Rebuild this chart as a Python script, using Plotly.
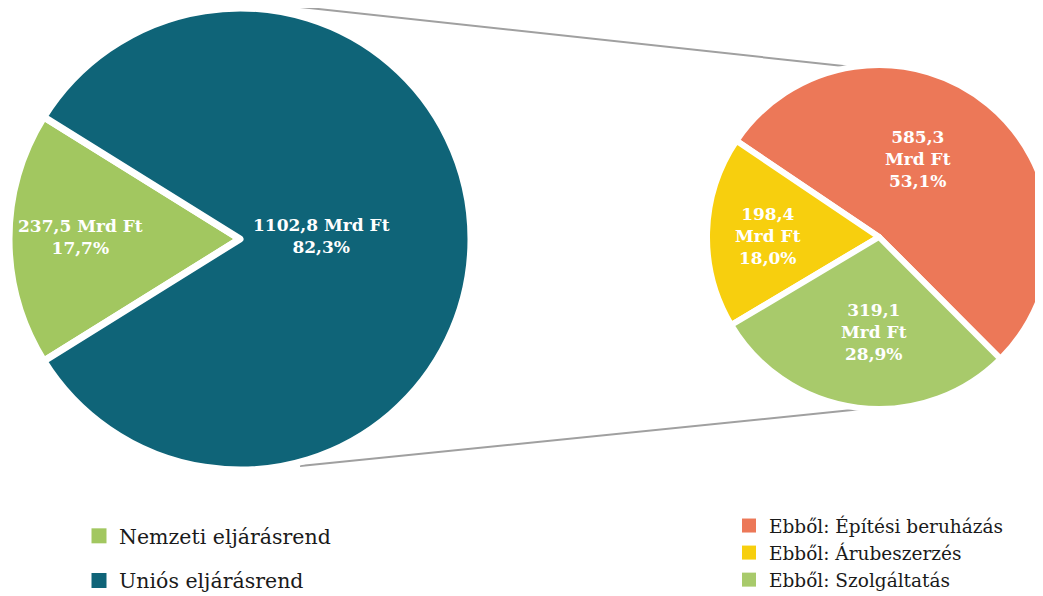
import plotly.graph_objects as go

W, H = 1043, 596
OFF = 8  # page body margin offset

# ---- data ----
left_labels = ["Nemzeti eljárásrend", "Uniós eljárásrend"]
left_values = [237.5, 1102.8]
left_pct = [17.7, 82.3]
left_colors = ["#a2c760", "#0f6478"]

right_labels = ["Ebből: Építési beruházás", "Ebből: Árubeszerzés", "Ebből: Szolgáltatás"]
right_values = [585.3, 198.4, 319.1]
right_pct = [53.1, 18.0, 28.9]
right_colors = ["#ec7858", "#f7cf0e", "#a8ca6b"]


def fmt(v):
    return f"{v:.1f}".replace(".", ",")


def px(x, y):
    """page pixel -> paper coords"""
    return (x - OFF) / W, 1 - (y - OFF) / H


fig = go.Figure()

# left pie
fig.add_trace(go.Pie(
    labels=left_labels, values=left_values, sort=False,
    direction="clockwise", rotation=238.1,
    marker=dict(colors=left_colors, line=dict(color="white", width=7)),
    textinfo="none", hoverinfo="label+value+percent", showlegend=False,
    domain=dict(x=[1 / W, 463 / W], y=[1 - 462 / H, 1.0]),
))

# right pie
fig.add_trace(go.Pie(
    labels=right_labels, values=right_values, sort=False,
    direction="counterclockwise", rotation=-56,
    marker=dict(colors=right_colors, line=dict(color="white", width=6)),
    textinfo="none", hoverinfo="label+value+percent", showlegend=False,
    domain=dict(x=[699 / W, 1.0], y=[1 - 401 / H, 1 - 57 / H]),
))

# legend entries
for lab, col in zip(left_labels, left_colors):
    fig.add_trace(go.Scatter(
        x=[None], y=[None], mode="markers", name=lab, legend="legend",
        legendgroup=lab, marker=dict(symbol="square", size=15, color=col),
    ))
for lab, col in zip(right_labels, right_colors):
    fig.add_trace(go.Scatter(
        x=[None], y=[None], mode="markers", name=lab, legend="legend2",
        legendgroup=lab, marker=dict(symbol="square", size=14, color=col),
    ))

# slice labels
lab_font = dict(family="DejaVu Serif", size=17, color="white")
left_pos = [(80, 237), (321, 236)]
for (x, y), v, p in zip(left_pos, left_values, left_pct):
    xx, yy = px(x, y)
    fig.add_annotation(x=xx, y=yy, xref="paper", yref="paper", showarrow=False,
                       xanchor="center", yanchor="middle",
                       text=f"<b>{fmt(v)} Mrd Ft<br>{fmt(p)}%</b>", font=lab_font,
                       align="center")
right_pos = [(918, 159), (768, 236), (874, 332)]
for (x, y), v, p in zip(right_pos, right_values, right_pct):
    xx, yy = px(x, y)
    fig.add_annotation(x=xx, y=yy, xref="paper", yref="paper", showarrow=False,
                       xanchor="center", yanchor="middle",
                       text=f"<b>{fmt(v)}<br>Mrd Ft<br>{fmt(p)}%</b>", font=lab_font,
                       align="center")

# connector lines (page px)
for (x0, y0, x1, y1) in [(300, 7, 862, 68), (300, 466, 862, 409)]:
    a0, b0 = px(x0, y0)
    a1, b1 = px(x1, y1)
    fig.add_shape(type="line", xref="paper", yref="paper", x0=a0, y0=b0, x1=a1, y1=b1,
                  line=dict(color="#a0a0a0", width=2), layer="below")

fig.update_layout(
    width=W, height=H,
    margin=dict(l=0, r=0, t=0, b=0),
    paper_bgcolor="white", plot_bgcolor="white",
    xaxis=dict(visible=False), yaxis=dict(visible=False),
    legend=dict(x=71 / W, y=1 - 508 / H, xanchor="left", yanchor="top",
                traceorder="grouped", tracegroupgap=15,
                font=dict(family="DejaVu Serif", size=20.5, color="#1a1a1a"),
                bgcolor="rgba(0,0,0,0)"),
    legend2=dict(x=721 / W, y=1 - 499 / H, xanchor="left", yanchor="top",
                 traceorder="grouped", tracegroupgap=0,
                 font=dict(family="DejaVu Serif", size=18.5, color="#1a1a1a"),
                 bgcolor="rgba(0,0,0,0)"),
)

fig.write_html("out.html")
